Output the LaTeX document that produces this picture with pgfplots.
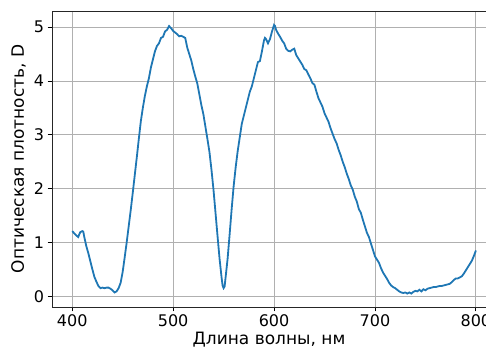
\documentclass[border=0pt]{standalone}
\usepackage{fontspec}
\setmainfont{DejaVu Sans}
\usepackage{pgfplots}
\pgfplotsset{compat=1.18}
\definecolor{tabblue}{HTML}{1F77B4}
\definecolor{gridgray}{HTML}{B0B0B0}
\begin{document}
\begin{tikzpicture}
\begin{axis}[
  scale only axis,
  width=434pt, height=296pt,
  xmin=380, xmax=810, ymin=-0.2, ymax=5.3,
  xtick={400,500,600,700,800},
  ytick={0,1,2,3,4,5},
  tick pos=left,
  tick align=outside,
  major tick length=4.5pt,
  every tick/.style={black, line width=0.9pt},
  axis line style={line width=0.9pt, black!85},
  grid=major,
  major grid style={gridgray, line width=0.9pt},
  /pgf/number format/assume math mode=true,
  ticklabel style={font=\fontsize{16}{19}\selectfont},
  label style={font=\fontsize{17}{20}\selectfont},
  xlabel={Длина волны, нм},
  ylabel={Оптическая плотность, D},
  xlabel style={yshift=1.5pt},
  ylabel style={yshift=1pt},
]
\addplot[tabblue, line width=1.8pt] coordinates {
(400,1.21)(402,1.17)(404,1.13)(406,1.10)(407,1.15)(408,1.19)(410,1.21)(411,1.20)
(412,1.10)(414,0.93)(416,0.80)(418,0.65)(420,0.50)(422,0.36)(424,0.27)(426,0.19)
(428,0.15)(430,0.16)(432,0.15)(434,0.16)(436,0.16)(438,0.14)(440,0.11)(442,0.07)
(444,0.09)(446,0.15)(448,0.25)(450,0.45)(452,0.72)(454,1.00)(456,1.30)(458,1.60)
(460,1.92)(462,2.25)(464,2.58)(466,2.92)(468,3.25)(470,3.50)(472,3.72)(474,3.90)
(476,4.05)(478,4.25)(480,4.40)(482,4.55)(484,4.65)(486,4.70)(488,4.80)(490,4.82)
(492,4.92)(494,4.95)(496,5.02)(498,4.98)(500,4.93)(502,4.90)(504,4.87)(506,4.83)
(508,4.84)(510,4.82)(512,4.80)(514,4.62)(516,4.50)(518,4.38)(520,4.22)(522,4.08)
(524,3.95)(526,3.75)(528,3.55)(530,3.38)(532,3.15)(534,2.92)(536,2.68)(538,2.35)
(540,1.98)(542,1.55)(544,1.12)(546,0.70)(548,0.35)(549,0.20)(550,0.15)(551,0.18)
(552,0.35)(554,0.70)(556,1.15)(558,1.62)(560,2.05)(562,2.40)(564,2.70)(566,2.95)
(568,3.20)(570,3.35)(572,3.50)(574,3.65)(576,3.80)(578,3.90)(580,4.05)(582,4.20)
(584,4.35)(586,4.37)(588,4.55)(590,4.75)(591,4.80)(592,4.78)(594,4.70)(596,4.78)
(598,4.92)(600,5.04)(601,5.02)(602,4.95)(604,4.88)(606,4.82)(608,4.75)(610,4.70)
(612,4.60)(614,4.56)(616,4.55)(618,4.58)(620,4.60)(622,4.48)(624,4.42)(626,4.36)
(628,4.30)(630,4.22)(632,4.20)(634,4.12)(636,4.05)(638,3.96)(640,3.93)(642,3.80)
(644,3.68)(646,3.60)(648,3.52)(650,3.40)(652,3.32)(654,3.24)(656,3.12)(658,3.02)
(660,2.92)(662,2.84)(664,2.72)(666,2.62)(668,2.50)(670,2.40)(672,2.28)(674,2.18)
(676,2.06)(678,1.98)(680,1.85)(682,1.76)(684,1.62)(686,1.55)(688,1.42)(690,1.30)
(692,1.18)(694,1.10)(696,0.98)(698,0.86)(700,0.74)(702,0.68)(704,0.62)(706,0.52)
(708,0.44)(710,0.38)(712,0.32)(714,0.25)(716,0.20)(718,0.17)(720,0.15)(722,0.12)
(724,0.09)(726,0.07)(728,0.06)(730,0.07)(732,0.05)(734,0.07)(736,0.05)(738,0.08)
(740,0.10)(742,0.09)(744,0.12)(746,0.09)(748,0.13)(750,0.11)(752,0.14)(754,0.15)
(756,0.16)(758,0.17)(760,0.17)(762,0.18)(764,0.19)(766,0.19)(768,0.20)(770,0.21)
(772,0.22)(774,0.23)(776,0.26)(778,0.30)(780,0.33)(782,0.33)(784,0.35)(786,0.37)
(788,0.42)(790,0.48)(792,0.54)(794,0.60)(796,0.66)(798,0.75)(800,0.85)
};
\coordinate (ll) at (rel axis cs:0,0);
\coordinate (ur) at (rel axis cs:1,1);
\end{axis}
\pgfresetboundingbox
\path[use as bounding box] ([xshift=-52pt,yshift=-42pt]ll) rectangle ([yshift=11pt]ur);
\end{tikzpicture}
\end{document}
